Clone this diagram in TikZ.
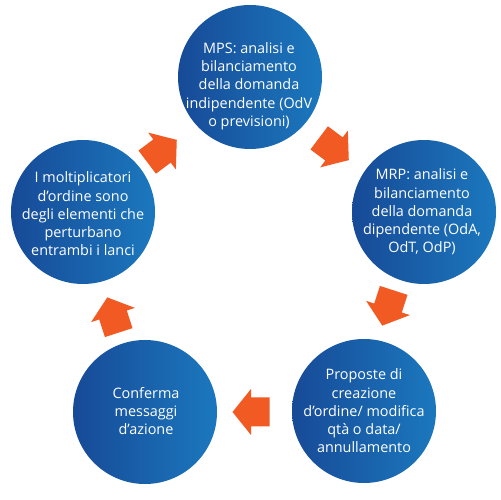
\documentclass[tikz,border=0pt]{standalone}
\usepackage{fontspec}
\setmainfont{Open Sans}
\definecolor{bluedark}{HTML}{174A97}
\definecolor{bluelight}{HTML}{1B78BE}
\definecolor{arrorange}{HTML}{F15A22}
\newcommand\blockarr[4]{%
  \fill[arrorange, shift={(#2,#3)}, rotate=#4]
    (-18.5,-14.5) coordinate (#1) -- (0,-14.5) -- (0,-23) -- (18.5,0) -- (0,23) -- (0,14.5) -- (-18.5,14.5) -- cycle;}
\begin{document}
\begin{tikzpicture}[x=0.02cm,y=0.02cm,
  bubble/.style={circle, minimum size=144*0.02cm, inner sep=0pt,
    left color=bluedark, right color=bluelight, shading angle=90},
  txt/.style={text=white, align=center, font=\fontsize{8.2}{10.4}\selectfont, inner sep=0pt}]
\useasboundingbox (0,0) rectangle (500,500);
\fill[white] (0,0) rectangle (500,500);
% circles (y = 500 - ypx)
\node[bubble] (c1) at (250,423) {};
\node[bubble] (c2) at (424,288) {};
\node[bubble] (c3) at (364,89) {};
\node[bubble] (c4) at (145,88) {};
\node[bubble] (c5) at (83,288) {};
% texts
\node[txt] (t1) at (249,414) {MPS: analisi e\\bilanciamento\\della domanda\\indipendente (OdV\\o previsioni)};
\node[txt] (t2) at (422,288) {MRP: analisi e\\bilanciamento\\della domanda\\dipendente (OdA,\\OdT, OdP)};
\node[txt] (t3) at (364,89) {Proposte di\\creazione\\d’ordine/ modifica\\qtà o data/\\annullamento};
\node[txt] (t4) at (146,89) {Conferma\\messaggi\\d’azione};
\node[txt] (t5) at (83,286) {I moltiplicatori\\d’ordine sono\\degli elementi che\\perturbano\\entrambi i lanci};
% arrows
\blockarr{a1}{334}{351}{-37}
\blockarr{a2}{388}{192}{-108}
\blockarr{a3}{251}{88}{180}
\blockarr{a4}{113}{185}{108}
\blockarr{a5}{162}{349}{37}
\end{tikzpicture}
\end{document}
